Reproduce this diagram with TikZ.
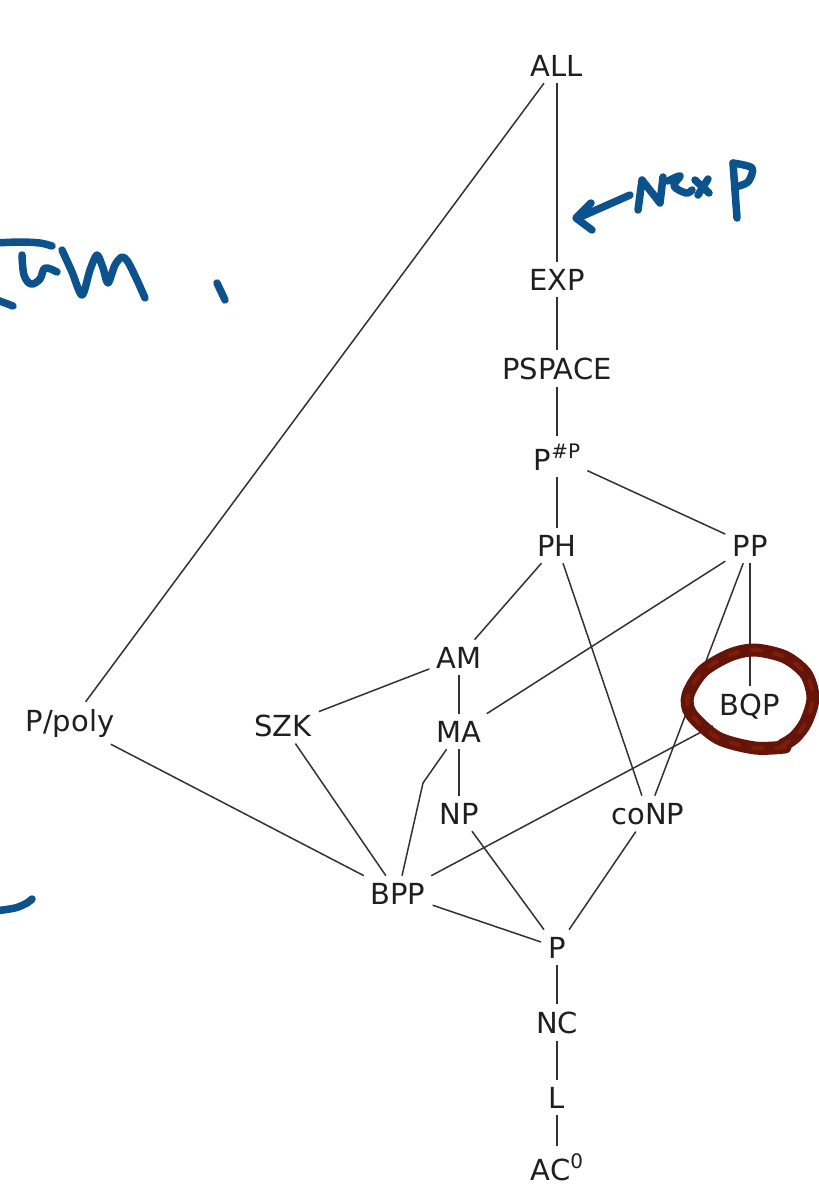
\documentclass[tikz,border=0pt]{standalone}
\usepackage{fontspec}
\setmainfont{DejaVu Sans}
\definecolor{ink}{RGB}{12,82,140}
\definecolor{ring}{RGB}{100,20,8}
\definecolor{ringlight}{RGB}{170,50,15}
\definecolor{edge}{RGB}{50,50,50}
\newcommand{\supA}[1]{\raisebox{12pt}{\fontsize{20}{20}\selectfont #1}}
\begin{document}
\begin{tikzpicture}[x=1pt,y=-1pt,
  cls/.style={anchor=base, inner sep=7pt, font=\fontsize{29}{34}\selectfont, text=black!88},
  link/.style={draw=edge, line width=1.5pt},
  pen/.style={draw=ink, line width=7.5pt, line cap=round, line join=round}]
\useasboundingbox (0,0) rectangle (819,1184);

% complexity classes (placed by baseline)
\node[cls] (ALL)    at (557,76)   {ALL};
\node[cls] (EXP)    at (557,290)  {EXP};
\node[cls] (PSPACE) at (557,379)  {PSPACE};
\node[cls] (PSP)    at (557,470)  {P\supA{\#P}};
\node[cls] (PH)     at (557,556)  {PH};
\node[cls] (PP)     at (750,556)  {PP};
\node[cls] (AM)     at (459,668)  {AM};
\node[cls] (MA)     at (459,742)  {MA};
\node[cls] (NP)     at (459,824)  {NP};
\node[cls] (coNP)   at (648,824)  {coNP};
\node[cls] (BQP)    at (750,715)  {BQP};
\node[cls] (SZK)    at (283,736)  {SZK};
\node[cls] (Ppoly)  at (70,731)   {P/poly};
\node[cls] (BPP)    at (398,904)  {BPP};
\node[cls] (P)      at (557,958)  {P};
\node[cls] (NC)     at (557,1033) {NC};
\node[cls] (L)      at (557,1108) {L};
\node[cls] (AC)     at (557,1180) {AC\supA{0}};
\coordinate (bend) at (423,783);

% inclusions
\draw[link] (ALL) -- (EXP);
\draw[link] (ALL) -- (Ppoly);
\draw[link] (EXP) -- (PSPACE);
\draw[link] (PSPACE) -- (PSP);
\draw[link] (PSP) -- (PH);
\draw[link] (PSP) -- (PP);
\draw[link] (PH) -- (AM);
\draw[link] (PH) -- (coNP);
\draw[link] (PP) -- (MA);
\draw[link] (PP) -- (coNP);
\draw[link] (PP) -- (BQP);
\draw[link] (AM) -- (MA);
\draw[link] (AM) -- (SZK);
\draw[link] (MA) -- (NP);
\draw[link] (MA) -- (bend) -- (BPP);
\draw[link] (SZK) -- (BPP);
\draw[link] (Ppoly) -- (BPP);
\draw[link] (BQP) -- (BPP);
\draw[link] (NP) -- (P);
\draw[link] (coNP) -- (P);
\draw[link] (BPP) -- (P);
\draw[link] (P) -- (NC);
\draw[link] (NC) -- (L);
\draw[link] (L) -- (AC);

% ring around BQP
\def\ringpath{plot[smooth] coordinates {(785,747) (755,748) (718,738) (691,714) (688,695) (703,671) (730,655) (755,650) (785,657) (806,674) (813,698) (806,722) (795,737) (783,745)}}
\draw[ring, line width=13pt, line cap=round, line join=round] \ringpath;
\draw[ringlight, opacity=0.35, line width=4pt, line cap=round, dash pattern=on 9pt off 14pt] \ringpath;

% handwritten notes
\draw[pen] plot[smooth] coordinates {(-5,243) (20,242) (40,243) (52,246)};
\draw[pen] (-3,300) -- (13,306);
\draw[pen] plot[smooth, tension=0.6] coordinates {(22,255) (24,275) (31,284) (40,279) (45,268) (57,272)};
\draw[pen] plot[smooth, tension=0.5] coordinates {(62,250) (72,272) (82,295) (90,270) (97,255) (103,268) (108,283) (115,265) (122,257) (128,262) (137,280) (145,298)};
\draw[pen] (217,283) -- (225,300);

\draw[pen] (630,195) -- (578,218);
\draw[pen] (591,203) -- (576,218) -- (592,230);
\draw[pen] (638,210) -- (642,180) -- (660,203) -- (663,177);
\draw[pen] plot[smooth, tension=0.6] coordinates {(668,181) (680,176) (674,186) (686,193) (692,190)};
\draw[pen] (695,180) -- (709,193);
\draw[pen] (708,179) -- (698,195);
\draw[pen] (733,163) -- (737,218);
\draw[pen] plot[smooth] coordinates {(733,163) (752,168) (748,182) (735,187)};

\draw[pen] plot[smooth] coordinates {(-5,911) (15,908) (27,903) (32,899)};
\end{tikzpicture}
\end{document}
